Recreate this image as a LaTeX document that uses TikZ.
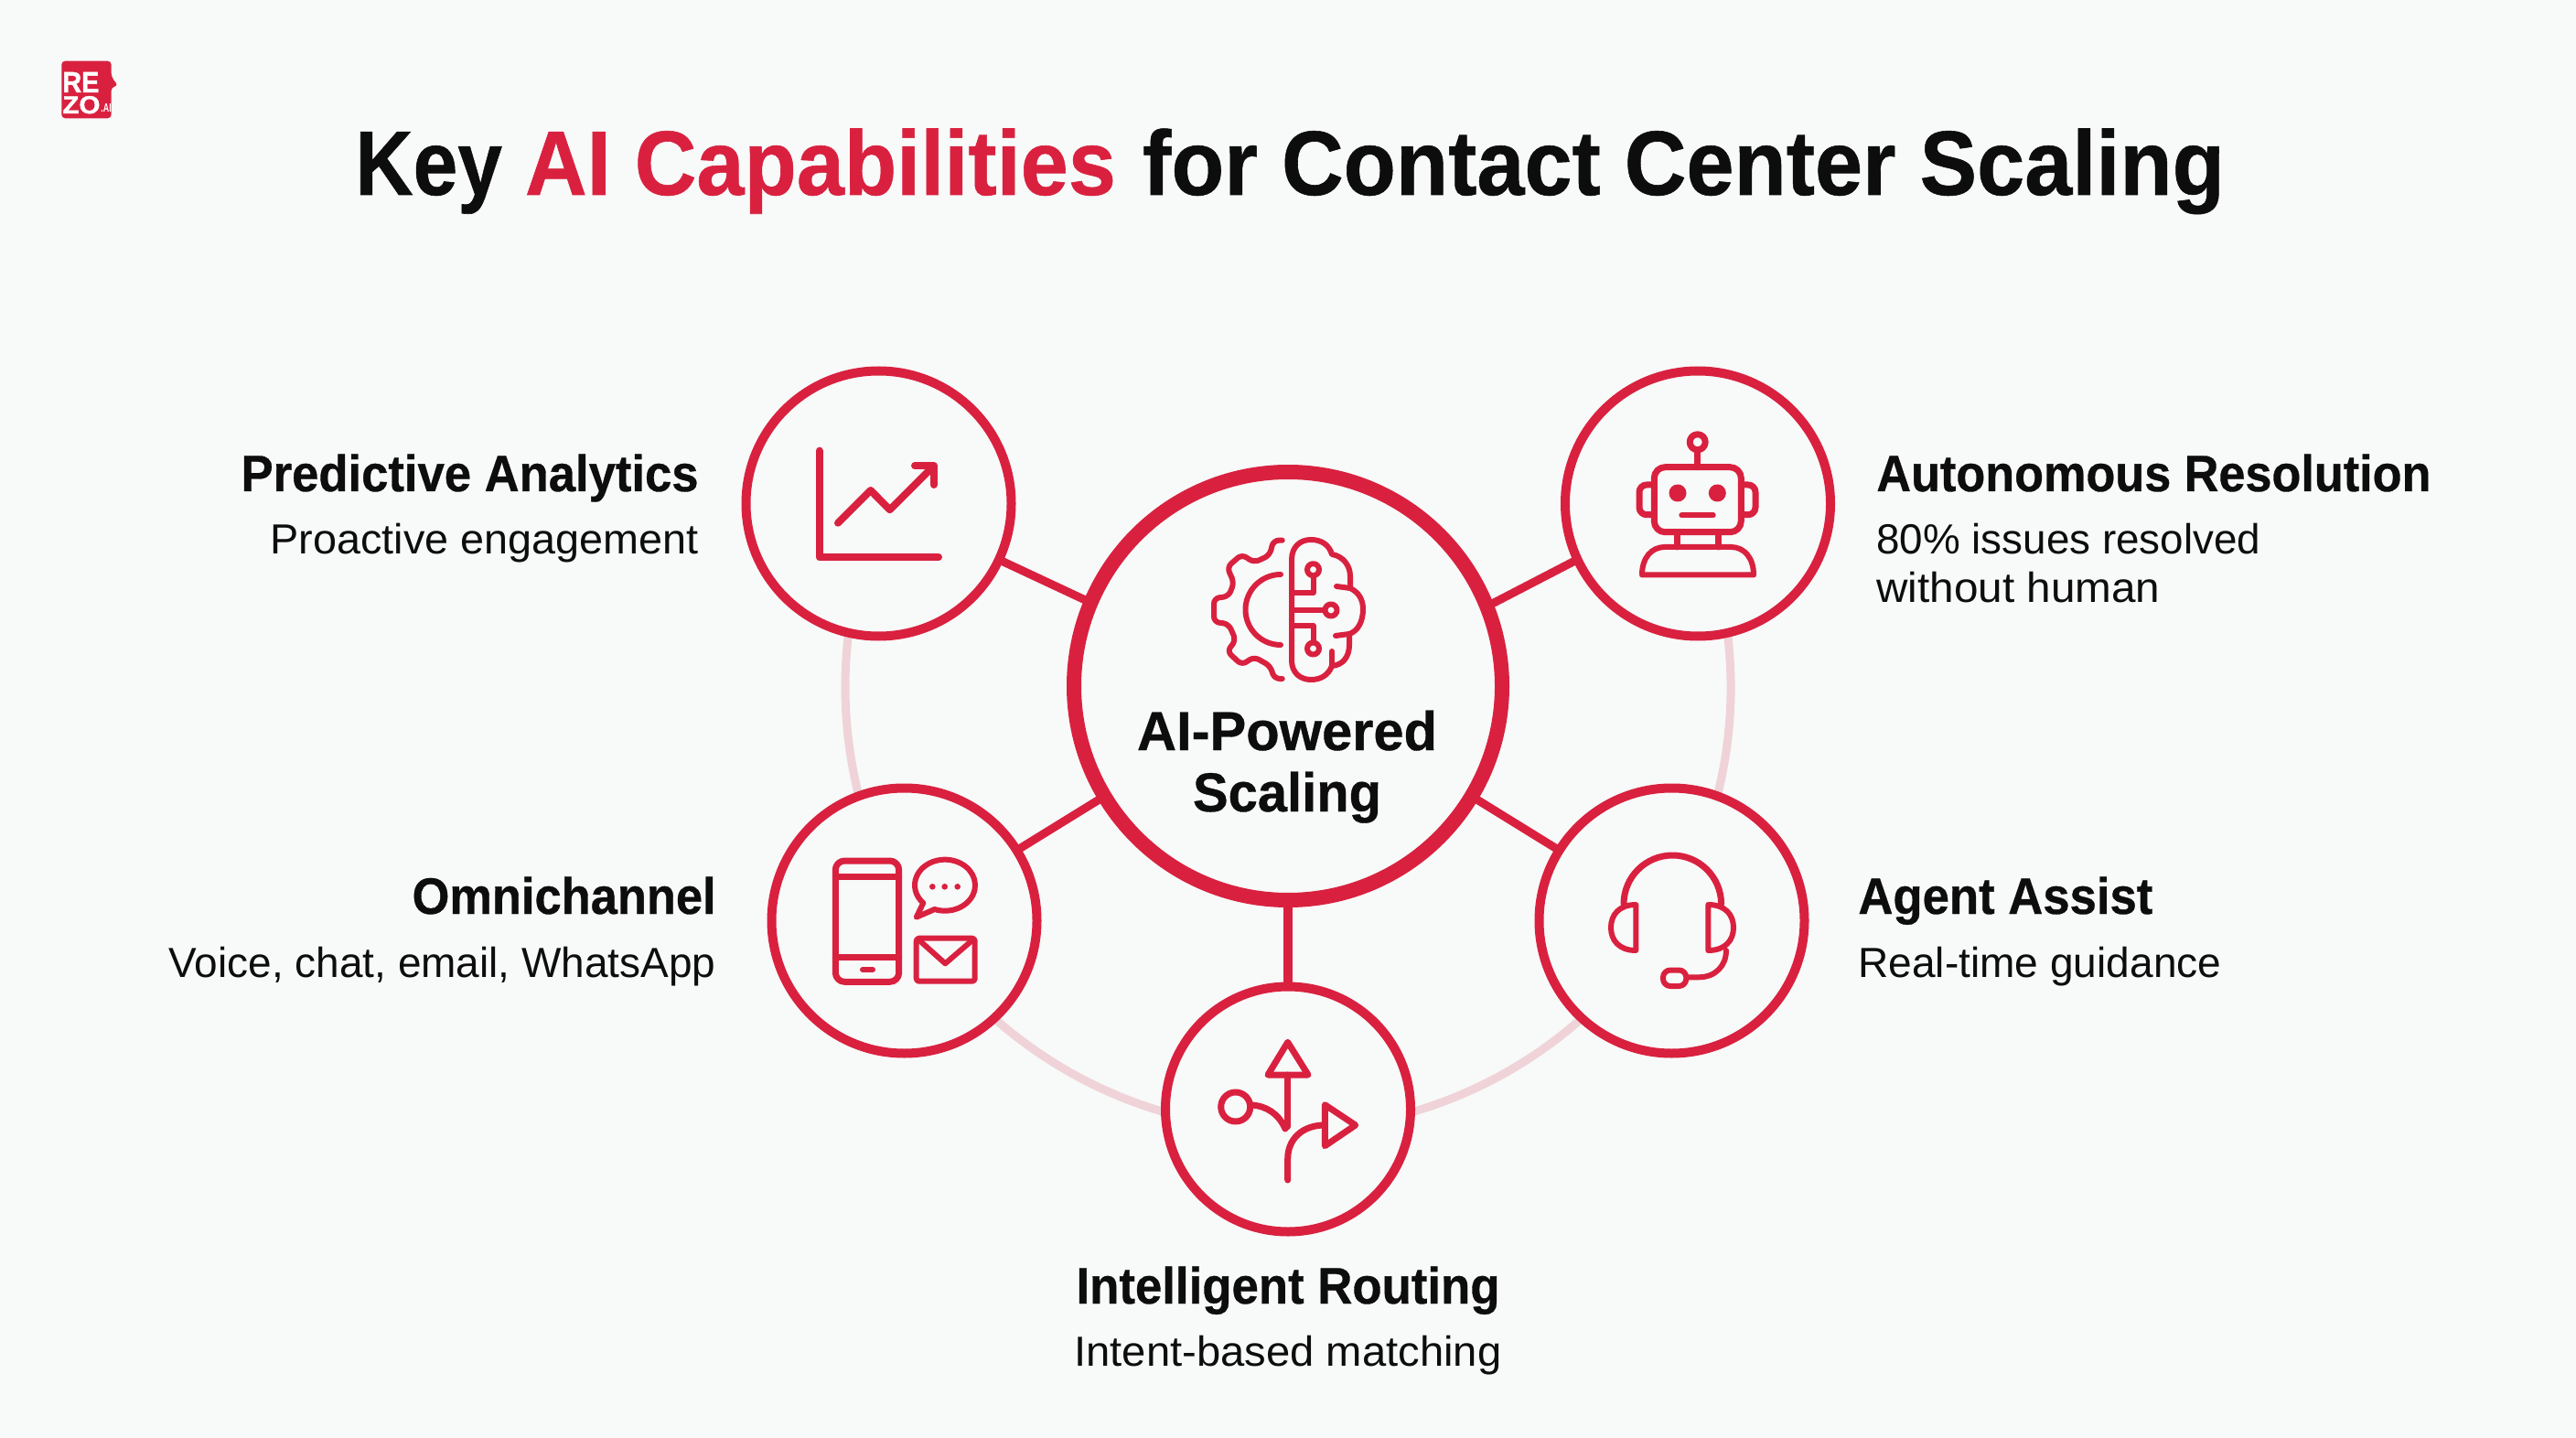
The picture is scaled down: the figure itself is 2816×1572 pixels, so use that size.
\documentclass[tikz,border=0pt]{standalone}
\usepackage{graphicx}
\usepackage{fontspec}
\setmainfont{Liberation Sans}
\newfontfamily\heavyfont[FakeBold=0.6]{Liberation Sans Bold}
\newfontfamily\logofont[FakeBold=1.5]{Liberation Sans Bold}
\definecolor{bgc}{HTML}{F8F9F9}
\definecolor{rzred}{HTML}{D9213F}
\definecolor{rzfaint}{HTML}{EFD3D8}
\definecolor{ink}{HTML}{0D0D0D}
\newcommand\fitw[2]{\resizebox{#1pt}{\height}{#2}}
\tikzset{
  hubring/.style={circle,draw=rzred,fill=bgc,line width=8pt,minimum size=234pt,inner sep=0pt},
  capring/.style={circle,draw=rzred,fill=bgc,line width=5pt,minimum size=145pt,inner sep=0pt},
  routering/.style={circle,draw=rzred,fill=bgc,line width=5pt,minimum size=134pt,inner sep=0pt},
  spoke/.style={draw=rzred,line width=4.5pt,shorten <=-2pt,shorten >=-2pt},
  faintarc/.style={draw=rzfaint,line width=4.5pt},
  ico/.style={draw=rzred,line width=3.5pt,line cap=round,line join=round},
  icothin/.style={draw=rzred,line width=3pt,line cap=round,line join=round},
  icofill/.style={fill=rzred,draw=none},
  head/.style={inner sep=0pt,text=ink,font=\heavyfont\fontsize{28}{30}\selectfont},
  sub/.style={inner sep=0pt,text=ink,font=\fontsize{23}{25}\selectfont},
  hubtext/.style={inner sep=0pt,text=ink,anchor=base,font=\heavyfont\fontsize{30}{32}\selectfont},
  logotext/.style={inner sep=0pt,text=white,anchor=base west,font=\logofont\fontsize{16}{16}\selectfont},
}
\begin{document}
\begin{tikzpicture}[x=0.5pt,y=-0.5pt]
\fill[bgc] (0,0) rectangle (2816,1572);
\useasboundingbox (0,0) rectangle (2816,1572);

% logo
\fill[rzred,rounded corners=2pt] (67.3,129.3) -- (67.3,66.7) -- (121.7,66.7) -- (121.7,84) -- (129.3,94) -- (121.7,95) -- (121.7,129.3) -- cycle;
\node[logotext] (logoA) at (68,101) {\fitw{20}{RE}};
\node[logotext] (logoB) at (68,124) {\resizebox{20.5pt}{9.5pt}{ZO}};
\node[logotext,font=\bfseries\fontsize{6.5}{7}\selectfont] (logoC) at (110,123) {\fitw{5.7}{.AI}};

% title
\node[inner sep=0pt,anchor=base west,font=\heavyfont\fontsize{50}{52}\selectfont,text=ink] (title) at (388,213)
  {\fitw{80.3}{Key}\hspace{12.5pt}\textcolor{rzred}{\fitw{323}{AI Capabilities}}\hspace{14.5pt}\fitw{63}{for}\hspace{13pt}\fitw{515.5}{Contact Center Scaling}};

% faint ring
\coordinate (ringc) at (1408,751);
\draw[faintarc] (ringc) ++(-8:484) arc[start angle=-8,end angle=188,radius=484];

% nodes
\node[hubring] (hub) at (1408,750) {};
\node[capring] (pa) at (960.5,550.5) {};
\node[capring] (ra) at (1856,550.5) {};
\node[capring] (om) at (988.5,1006.5) {};
\node[capring] (ag) at (1827.5,1006.5) {};
\node[routering] (ir) at (1408,1212.5) {};

% connectors
\draw[spoke] (hub.157.4) -- (pa.-25);
\draw[spoke] (hub.22.6) -- (ra.205);
\draw[spoke] (hub.211.4) -- (om.32);
\draw[spoke] (hub.-31.2) -- (ag.148);
\draw[spoke,line width=5pt] (hub.south) -- (ir.north);

% hub icon
\draw[icothin,rounded corners=3pt] (1401.7,590.7) -- (1392,590.7) -- (1388,607) -- (1370.7,615) -- (1357.6,606) -- (1341.4,620) -- (1349,637) -- (1343,652) -- (1327,654) -- (1327,680) -- (1343,682) -- (1351,700) -- (1341.4,712) -- (1357.6,727) -- (1370.7,718) -- (1388.6,728) -- (1393,742) -- (1401.7,742);
\draw[icothin] (1400,628) arc[start angle=-90,end angle=-270,radius=38.5];
\draw[icothin] (1412,612) .. controls (1412,598) and (1421,590) .. (1433,590) .. controls (1445,590) and (1453,596) .. (1456,606) .. controls (1468,608) and (1476,618) .. (1476,630) -- (1476,643) .. controls (1486,648) and (1490,656) .. (1490,666) .. controls (1490,680) and (1484,690) .. (1475,693) -- (1475,705) .. controls (1475,718) and (1468,727) .. (1456,728) .. controls (1452,738) and (1444,743) .. (1433,743) .. controls (1421,743) and (1412,735) .. (1412,722) -- cycle;
\draw[icothin] (1461,641) -- (1476,643);
\draw[icothin] (1460,695) -- (1475,693);
\draw[icothin] (1456,712) -- (1456,728);
\draw[icothin] (1435.5,622.7) circle[radius=6.5];
\draw[icothin] (1455,667) circle[radius=6.5];
\draw[icothin] (1435.5,709) circle[radius=6.5];
\draw[icothin] (1412,667) -- (1448,667);
\draw[icothin] (1435.5,630) -- (1435.5,648) -- (1412,648);
\draw[icothin] (1435.5,702) -- (1435.5,684) -- (1412,684);
\node[hubtext] (hubA) at (1407,820) {\fitw{164}{AI-Powered}};
\node[hubtext] (hubB) at (1407,887) {\fitw{103}{Scaling}};

% chart icon
\draw[ico,line width=4pt] (895.7,492.7) -- (895.7,609.3) -- (1026,609.3);
\draw[ico,line width=4pt] (916,571.7) -- (951.7,536) -- (972.7,557.3) -- (1020.7,509.3);
\draw[ico,line width=4pt] (1000,509.3) -- (1020.7,509.3) -- (1020.7,530);

% robot icon
\draw[ico] (1855.7,483.3) circle[radius=8.5];
\draw[ico] (1855.7,493) -- (1855.7,510.7);
\draw[ico,rounded corners=6pt] (1808.3,510.7) rectangle (1903.3,581.7);
\fill[icofill] (1834,539) circle[radius=9.5];
\fill[icofill] (1877.3,539) circle[radius=9.5];
\draw[icothin] (1838.3,563.3) -- (1872.7,563.3);
\draw[ico,rounded corners=4pt] (1806,530) -- (1792,530) -- (1792,562.7) -- (1806,562.7);
\draw[ico,rounded corners=4pt] (1905,530) -- (1919,530) -- (1919,562.7) -- (1905,562.7);
\draw[ico] (1833.3,581.7) -- (1833.3,598);
\draw[ico] (1878.3,581.7) -- (1878.3,598);
\draw[icothin] (1795,628.5) .. controls (1795,610) and (1805,598) .. (1820,598) -- (1892,598) .. controls (1907,598) and (1917,610) .. (1917,628.5) -- cycle;

% omnichannel icon
\draw[ico,rounded corners=5pt] (913.3,941) rectangle (982.7,1073.3);
\draw[ico] (913.3,958.3) -- (982.7,958.3);
\draw[ico] (913.3,1046.7) -- (982.7,1046.7);
\draw[icothin] (943,1060) -- (954,1060);
\draw[icothin] (1021.7,994) arc[start angle=110,end angle=-224,x radius=33,y radius=28] -- (1001.7,1002.7) -- cycle;
\fill[icofill] (1019.3,969.3) circle[radius=3.3];
\fill[icofill] (1032.7,969.3) circle[radius=3.3];
\fill[icofill] (1046.7,969.3) circle[radius=3.3];
\draw[icothin,rounded corners=1.5pt] (1001.7,1025.7) rectangle (1065.7,1072.7);
\draw[icothin] (1005,1028) -- (1033.3,1053.3) -- (1062.7,1028);

% headset icon
\draw[ico] (1775,988.3) arc[start angle=-180,end angle=0,radius=53.3];
\draw[icothin] (1788.3,989) -- (1788.3,1039) .. controls (1770,1039) and (1761,1028) .. (1761,1014) .. controls (1761,1000) and (1770,989) .. (1788.3,989) -- cycle;
\draw[icothin] (1867.3,989) -- (1867.3,1039) .. controls (1886,1039) and (1895,1028) .. (1895,1014) .. controls (1895,1000) and (1886,989) .. (1867.3,989) -- cycle;
\draw[icothin] (1887,1039) .. controls (1887,1056) and (1875,1068.3) .. (1857,1068.3) -- (1845,1068.3);
\draw[icothin,rounded corners=4pt] (1818,1060.5) rectangle (1843.3,1078);

% routing icon
\draw[ico] (1407.7,1139.3) -- (1430,1175) -- (1386,1175) -- cycle;
\draw[ico] (1407.7,1175) -- (1407.7,1231.7);
\draw[ico] (1350.7,1210) circle[radius=16];
\draw[ico] (1368,1208) .. controls (1385,1209) and (1398,1218) .. (1405,1234);
\draw[ico] (1407.7,1290) -- (1407.7,1266.7) .. controls (1407.7,1245) and (1424,1230) .. (1448,1230);
\draw[ico] (1448.3,1207.7) -- (1481.7,1230) -- (1448.3,1252.7) -- cycle;

% labels
\node[head,anchor=base east] (paH) at (764,537) {\fitw{250}{Predictive Analytics}};
\node[sub,anchor=base east] (paS) at (764,605) {\fitw{234}{Proactive engagement}};
\node[head,anchor=base west] (raH) at (2051,537) {\fitw{303}{Autonomous Resolution}};
\node[sub,anchor=base west] (raS) at (2051,605) {\fitw{210}{80\% issues resolved}};
\node[sub,anchor=base west] (raT) at (2051,659) {\fitw{155}{without human}};
\node[head,anchor=base east] (omH) at (783,999) {\fitw{166}{Omnichannel}};
\node[sub,anchor=base east] (omS) at (783,1068) {\fitw{299}{Voice, chat, email, WhatsApp}};
\node[head,anchor=base west] (agH) at (2031,999) {\fitw{161}{Agent Assist}};
\node[sub,anchor=base west] (agS) at (2031,1068) {\fitw{198.5}{Real-time guidance}};
\node[head,anchor=base] (irH) at (1408,1425) {\fitw{231.5}{Intelligent Routing}};
\node[sub,anchor=base] (irS) at (1408,1493) {\fitw{233.5}{Intent-based matching}};
\end{tikzpicture}
\end{document}
